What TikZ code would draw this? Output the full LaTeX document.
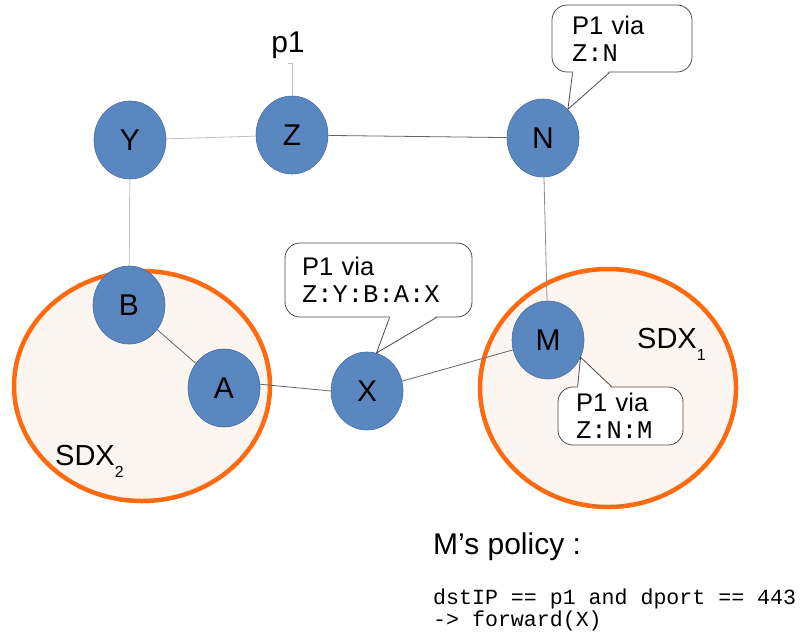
\documentclass[tikz,border=0pt]{standalone}
\usepackage{fontspec}
\setmainfont{Liberation Sans}
\setmonofont{Liberation Mono}
\usetikzlibrary{shapes.geometric,calc}

\definecolor{nodeblue}{RGB}{91,135,193}
\definecolor{nodeedge}{RGB}{70,110,165}
\definecolor{sdxorange}{RGB}{255,106,16}
\definecolor{sdxfill}{RGB}{253,245,240}

\newcommand{\lowsub}[1]{\raisebox{-12pt}{\fontsize{16}{16}\selectfont #1}}

\tikzset{
  router/.style={ellipse, draw=nodeedge, line width=0.6pt, fill=nodeblue,
    minimum width=72pt, minimum height=78pt, inner sep=0pt,
    font=\fontsize{30}{32}\selectfont},
  sdx/.style={draw=sdxorange, line width=4.5pt, fill=sdxfill},
  link/.style={draw=black!60, line width=0.8pt},
  faint/.style={draw=black!25, line width=0.8pt},
  bubble/.style={draw=black!70, line width=0.8pt, fill=white, rounded corners=15pt,
    align=left, inner sep=0pt, font=\fontsize{25.5}{27}\selectfont},
  lbl/.style={inner sep=0pt, font=\fontsize{29}{32}\selectfont},
}

\begin{document}
\begin{tikzpicture}[x=1pt,y=-1pt]
\useasboundingbox (0,0) rectangle (802,637);

% exchange regions
\draw[sdx] (142,386) ellipse [x radius=128, y radius=115];
\draw[sdx] (608,388) ellipse [x radius=128, y radius=119];
\node[lbl, anchor=base west] (sdx2) at (55,465) {SDX\lowsub{2}};
\node[lbl, anchor=base west] (sdx1) at (637,348) {SDX\lowsub{1}};

% routers
\node[router] (Y) at (130,140) {Y};
\node[router] (Z) at (292,135) {Z};
\node[router] (N) at (543,138) {N};
\node[router] (B) at (129,305) {B};
\node[router] (A) at (224,388) {A};
\node[router] (X) at (367,391) {X};
\node[router] (M) at (548,340) {M};

% prefix origin
\node[inner sep=0pt, font=\fontsize{30}{32}\selectfont, anchor=base] (p1) at (288,52) {p1};

% links
\draw[faint] (p1.south) ++(0,5) coordinate (p1b) -- (Z.north |- p1b) -- (Z.north);
\draw[faint] (Y) -- (Z);
\draw[link] (Z) -- (N);
\draw[draw=black!45, line width=0.8pt] (N) -- (M);
\draw[faint] (Y) -- (B);
\draw[link] (B) -- (A);
\draw[link] (A.6) -- (X.west);
\draw[link] (X) -- (M);

% route announcements
\node[bubble, minimum width=140pt, minimum height=67pt, text width=100pt] (cN) at (622,38.5)
  {P1 via\\\texttt{Z:N}};
\node[bubble, minimum width=187pt, minimum height=74pt, text width=153pt] (cX) at (378.5,280)
  {P1 via\\\texttt{Z:Y:B:A:X}};
\node[bubble, minimum width=125pt, minimum height=58pt, text width=89pt] (cM) at (620.5,416)
  {P1 via\\\texttt{Z:N:M}};

% callout pointers
\fill[white] ($(cN.south west)+(21.4,-1.5)$) -- (N.49) -- ($(cN.south west)+(57.6,-1.5)$) -- cycle;
\draw[black!70, line width=0.8pt] ($(cN.south west)+(21,0)$) -- (N.49) -- ($(cN.south west)+(58,0)$);
\fill[white] ($(cX.south west)+(105.4,-1.5)$) -- (X.76) -- ($(cX.south west)+(151.6,-1.5)$) -- cycle;
\draw[black!70, line width=0.8pt] ($(cX.south west)+(105,0)$) -- (X.76) -- ($(cX.south west)+(152,0)$);
\fill[white] ($(cM.north west)+(20.4,1.5)$) -- (M.-28) -- ($(cM.north west)+(53.6,1.5)$) -- cycle;
\draw[black!70, line width=0.8pt] ($(cM.north west)+(20,0)$) -- (M.-28) -- ($(cM.north west)+(54,0)$);

% policy of M
\node[anchor=base west, inner sep=0pt, font=\fontsize{30}{34}\selectfont] (pol) at (433,554) {M’s policy :};
\node[anchor=north west, inner sep=0pt, align=left, font=\fontsize{21.6}{21.5}\ttfamily] (code) at (433,589)
  {dstIP == p1 and dport == 443\\-> forward(X)};
\end{tikzpicture}
\end{document}
